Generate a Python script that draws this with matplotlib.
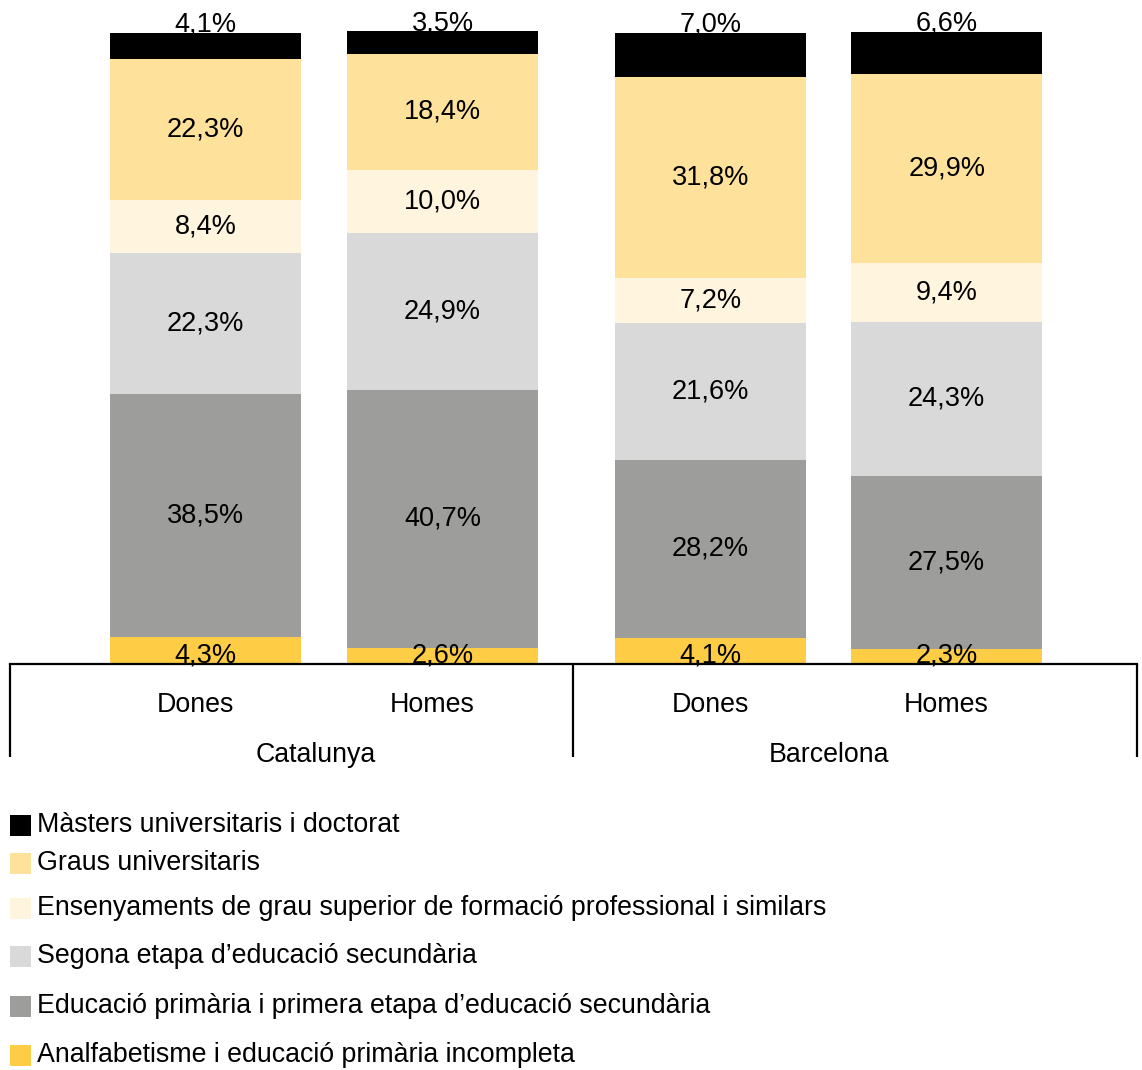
import matplotlib.pyplot as plt
import matplotlib.transforms as mtransforms
import numpy as np

plt.rcParams['font.family'] = ['Liberation Sans', 'DejaVu Sans']

# Education level shares (%) by territory and sex
groups = ['Catalunya', 'Barcelona']
sexes = ['Dones', 'Homes', 'Dones', 'Homes']
levels = [
    'Analfabetisme i educació primària incompleta',
    'Educació primària i primera etapa d\u2019educació secundària',
    'Segona etapa d\u2019educació secundària',
    'Ensenyaments de grau superior de formació professional i similars',
    'Graus universitaris',
    'Màsters universitaris i doctorat',
]
analfabetisme = [4.3, 2.6, 4.1, 2.3]
primaria = [38.5, 40.7, 28.2, 27.5]
secundaria = [22.3, 24.9, 21.6, 24.3]
fp_superior = [8.4, 10.0, 7.2, 9.4]
graus = [22.3, 18.4, 31.8, 29.9]
masters = [4.1, 3.5, 7.0, 6.6]

colors = ['#fecd45', '#9d9d9c', '#d9d9d9', '#fff5de', '#fee19b', '#000000']
series = [analfabetisme, primaria, secundaria, fp_superior, graus, masters]

x = np.array([0.0, 1.0, 2.13, 3.127])
width = 0.806


def fmt(v):
    return f'{v:.1f}%'.replace('.', ',')


fig = plt.figure(figsize=(11.42, 10.70), dpi=100)
ax = fig.add_axes([10 / 1142, 406 / 1070, 1127 / 1142, 654 / 1070])
ax.set_xlim(-0.825, 3.93)
ax.set_ylim(0, 103.5)

bottom = np.zeros(len(x))
for i, (vals, col) in enumerate(zip(series, colors)):
    vals = np.array(vals)
    ax.bar(x, vals, width, bottom=bottom, color=col, linewidth=0)
    for xi, b, v in zip(x, bottom, vals):
        if i == 0:
            ax.text(xi, b + 0.2, fmt(v), ha='center', va='baseline', fontsize=19.5)
        elif i == len(series) - 1:
            ax.text(xi, b + v + 0.2, fmt(v), ha='center', va='baseline', fontsize=19.5)
        else:
            ax.text(xi, b + v / 2, fmt(v), ha='center', va='center', fontsize=19.5)
    bottom += vals

for s in ['top', 'right', 'left']:
    ax.spines[s].set_visible(False)
ax.spines['bottom'].set_linewidth(1.6)
ax.set_yticks([])
ax.set_xticks(x)
ax.set_xticklabels(sexes, fontsize=19.3)
ax.tick_params(axis='x', length=0, pad=20)
# Catalunya labels sit a little left of their bars
shift = mtransforms.ScaledTranslation(-0.1, 0, fig.dpi_scale_trans)
for lab in ax.get_xticklabels()[:2]:
    lab.set_transform(lab.get_transform() + shift)

# group separators below the axis
tr = ax.get_xaxis_transform()
depth = -93 / 654
for xs in [-0.825, 1.551, 3.93]:
    ax.plot([xs, xs], [0, depth], transform=tr, color='black', lw=1.6,
            clip_on=False, solid_capstyle='butt')
for g, (a, b), dx in zip(groups, [(x[0], x[1]), (x[2], x[3])], [-0.035, 0.0]):
    ax.text((a + b) / 2 + dx, -91 / 654, g, transform=tr, ha='center',
            va='center', fontsize=19.3)

# legend, top to bottom
legend_y = [825, 863, 908, 956, 1006, 1055]
for lbl, col, yy in zip(levels[::-1], colors[::-1], legend_y):
    fy = 1 - yy / 1070
    fig.patches.append(plt.Rectangle((10 / 1142, fy - 11 / 1070), 21 / 1142, 21 / 1070,
                                     transform=fig.transFigure, color=col, lw=0))
    fig.text(37 / 1142, fy, lbl, ha='left', va='center', fontsize=19.3)

fig.savefig('out.png', dpi=100)
